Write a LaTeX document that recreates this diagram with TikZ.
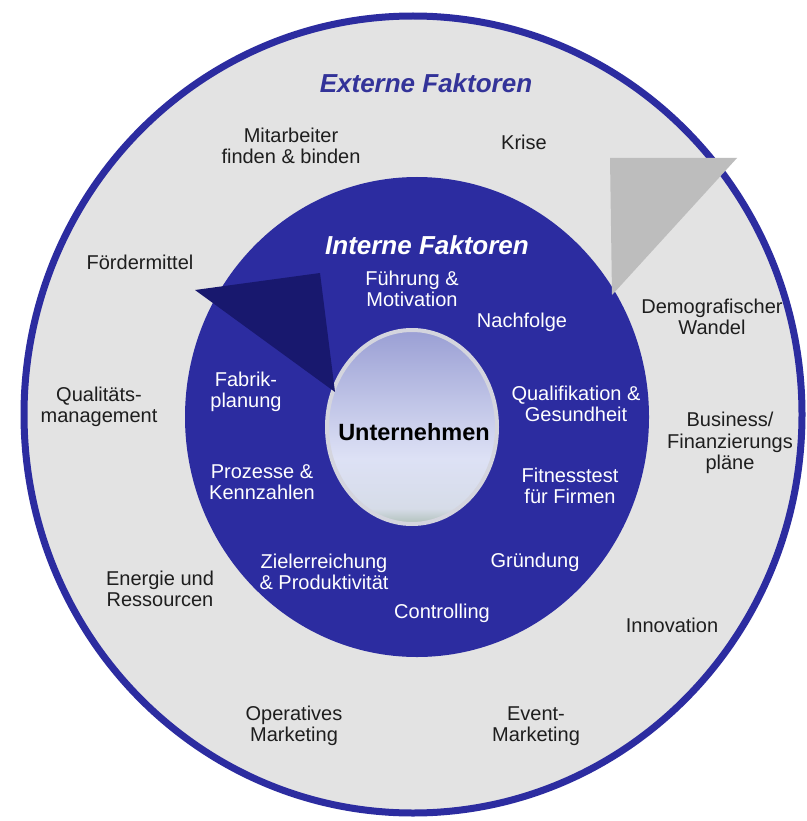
\documentclass[tikz,border=0pt]{standalone}
\usepackage{fontspec}
\setmainfont{Liberation Sans}
\definecolor{ringblue}{HTML}{2C2CA0}
\definecolor{ringgray}{HTML}{E3E3E3}
\definecolor{exttext}{HTML}{1E1E1E}
\definecolor{exthead}{HTML}{333399}
\definecolor{darktri}{HTML}{18186E}
\definecolor{graytri}{HTML}{BDBDBD}
\definecolor{rimgray}{HTML}{D4D5DE}
\definecolor{cctop}{HTML}{9A9FD4}
\definecolor{ccmid}{HTML}{DDE1F5}
\definecolor{cclow}{HTML}{D6DCE8}
\definecolor{ccbot}{HTML}{AFC0B8}
\pgfdeclareverticalshading{centreshade}{100bp}{color(0bp)=(ccbot); color(25bp)=(ccbot); color(29bp)=(cclow); color(42bp)=(ccmid); color(75bp)=(cctop); color(100bp)=(cctop)}
\tikzset{
  extlabel/.style={text=exttext, font=\fontsize{20}{21.5}\selectfont, align=center, inner sep=0pt},
  intlabel/.style={text=white, font=\fontsize{20}{21.5}\selectfont, align=center, inner sep=0pt},
  headlabel/.style={font=\fontsize{26}{28}\selectfont\bfseries\itshape, inner sep=0pt}
}
\begin{document}
\begin{tikzpicture}[x=1pt,y=-1pt]
\useasboundingbox (0,0) rectangle (806,821);
\fill[white] (0,0) rectangle (806,821);
% outer ring
\draw[line width=7pt, draw=ringblue, fill=ringgray] (413,414.5) ellipse [x radius=389, y radius=398.5];
% inner blue disk
\fill[ringblue] (417,417) ellipse [x radius=232, y radius=240];
% centre disk
\shade[shading=centreshade] (412,427) ellipse [x radius=85, y radius=97];
\draw[line width=4pt, draw=rimgray] (412,427) ellipse [x radius=85, y radius=97];
% pointers
\fill[darktri] (195,290) -- (320,273) -- (335,392) -- cycle;
\fill[graytri] (610,158) -- (737,158) -- (612,295) -- cycle;
% headings
\node[headlabel, text=exthead] (ext) at (426,83) {Externe Faktoren};
\node[headlabel, text=white] (int) at (427,245) {Interne Faktoren};
\node[font=\fontsize{23.5}{25}\selectfont\bfseries, text=black, inner sep=0pt] (unt) at (414,432) {Unternehmen};
% external factors
\node[extlabel] (mit) at (291,146) {Mitarbeiter\\finden \& binden};
\node[extlabel] (krise) at (524,142) {Krise};
\node[extlabel] (foerder) at (140,262) {Fördermittel};
\node[extlabel] (demo) at (712,317) {Demografischer\\Wandel};
\node[extlabel] (qual) at (99,407) {Qualitäts-\\management};
\node[extlabel] (bus) at (730,443) {Business/\\Finanzierungs\\pläne};
\node[extlabel] (energie) at (160,589) {Energie und\\Ressourcen};
\node[extlabel] (innov) at (672,625) {Innovation};
\node[extlabel] (opmark) at (294,726) {Operatives\\Marketing};
\node[extlabel] (event) at (536,726) {Event-\\Marketing};
% internal factors
\node[intlabel] (fuehr) at (412,289) {Führung \&\\Motivation};
\node[intlabel] (nach) at (522,322) {Nachfolge};
\node[intlabel] (fabrik) at (246,392) {Fabrik-\\planung};
\node[intlabel] (qualif) at (576,404) {Qualifikation \&\\Gesundheit};
\node[intlabel] (proz) at (262,482) {Prozesse \&\\Kennzahlen};
\node[intlabel] (fit) at (570,486) {Fitnesstest\\für Firmen};
\node[intlabel] (ziel) at (324,572) {Zielerreichung\\\& Produktivität};
\node[intlabel] (gruend) at (535,562) {Gründung};
\node[intlabel] (contr) at (442,613) {Controlling};
\end{tikzpicture}
\end{document}
